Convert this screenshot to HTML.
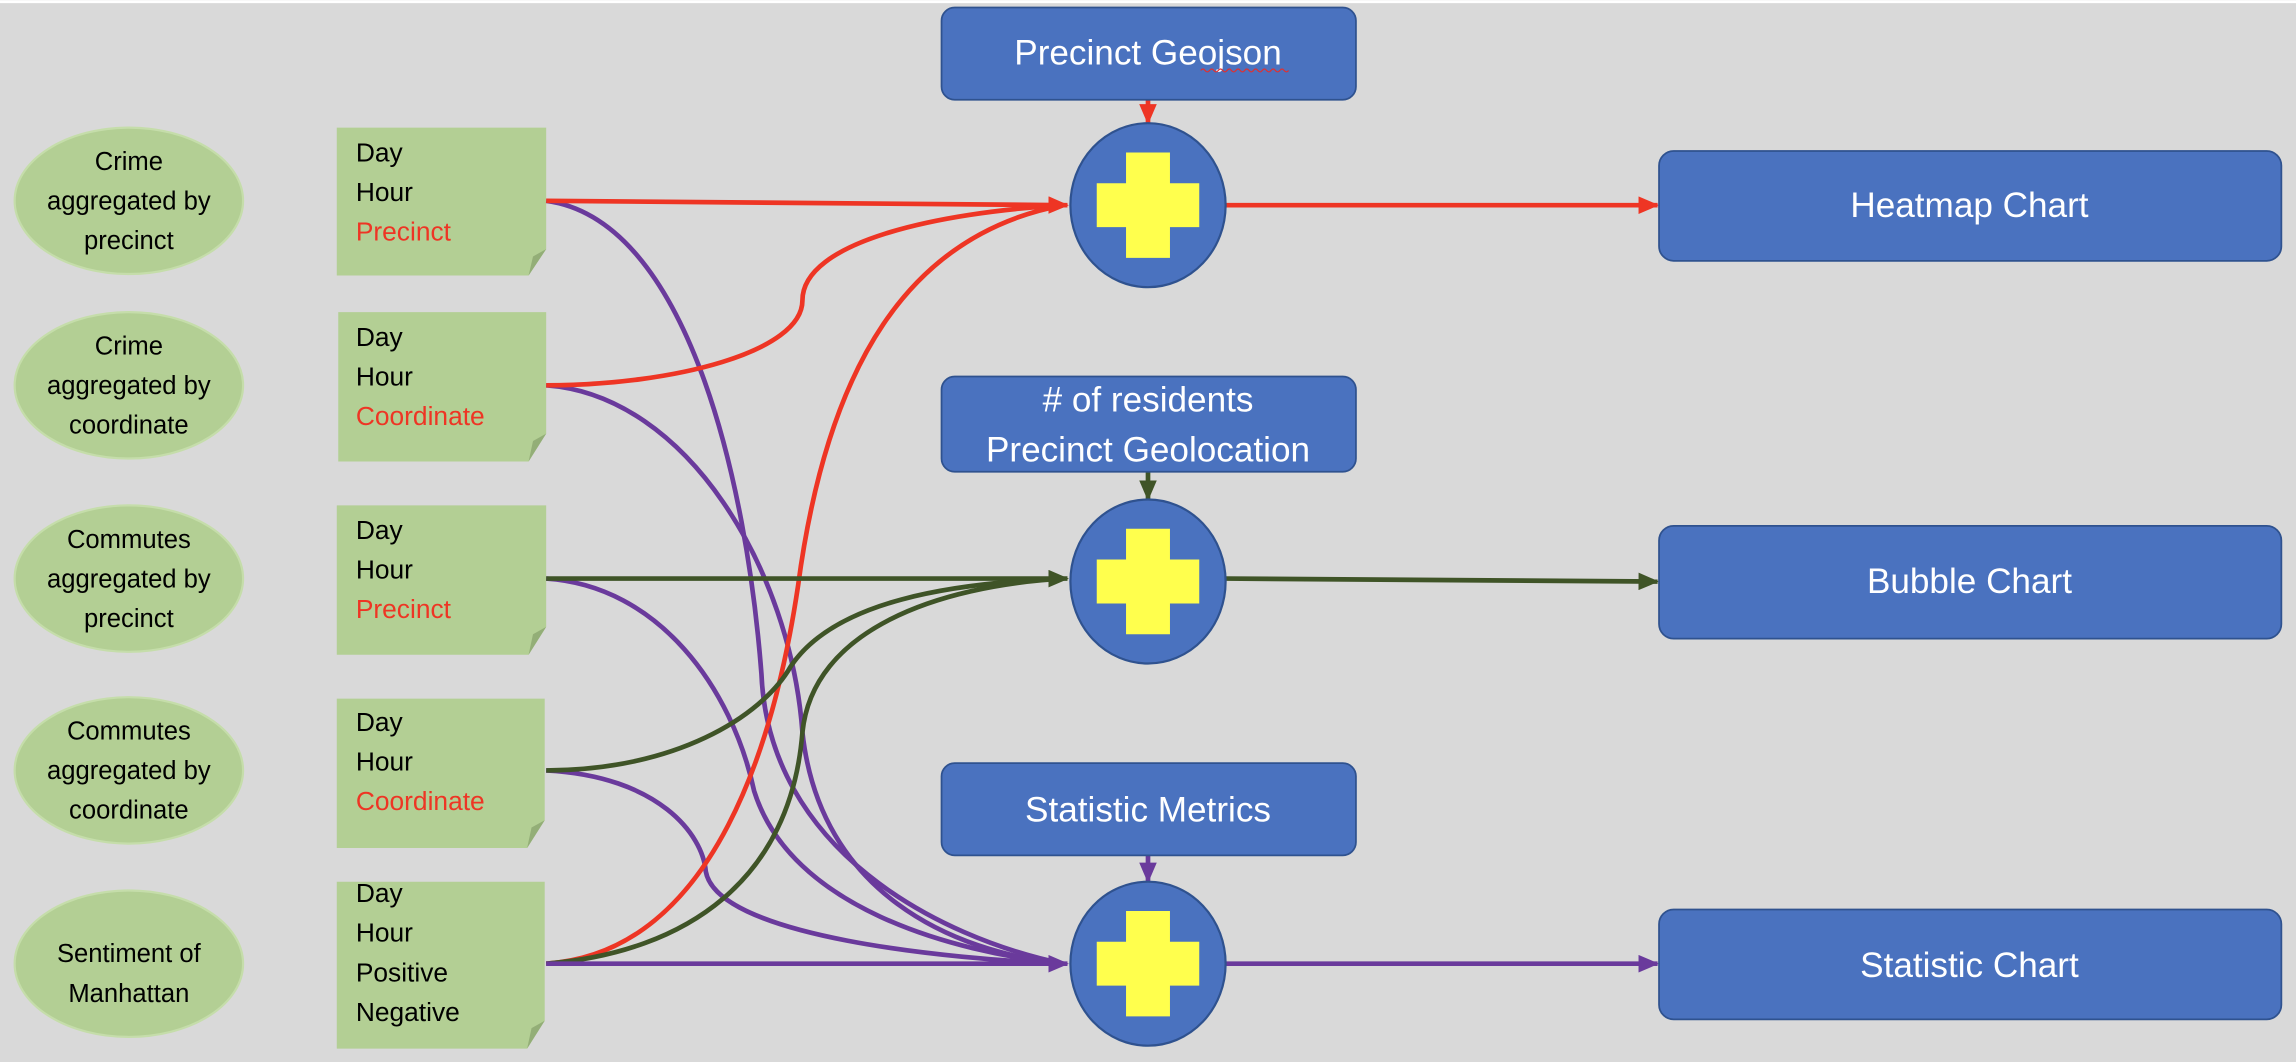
<!DOCTYPE html>
<html><head><meta charset="utf-8"><style>
html,body{margin:0;padding:0;background:#d9d9d9;}
svg{display:block}
text{font-family:"Liberation Sans Narrow","Liberation Sans",sans-serif;}
</style></head><body>
<svg width="2296" height="1062" viewBox="0 0 1568 725" xmlns="http://www.w3.org/2000/svg">
<defs>
<marker id="ar" markerWidth="14" markerHeight="12" refX="13" refY="6" orient="auto" markerUnits="userSpaceOnUse"><path d="M0,0 L14,6 L0,12z" fill="#EE3524"/></marker>
<marker id="ag" markerWidth="14" markerHeight="12" refX="13" refY="6" orient="auto" markerUnits="userSpaceOnUse"><path d="M0,0 L14,6 L0,12z" fill="#3F5427"/></marker>
<marker id="ap" markerWidth="14" markerHeight="12" refX="13" refY="6" orient="auto" markerUnits="userSpaceOnUse"><path d="M0,0 L14,6 L0,12z" fill="#6A3A9C"/></marker>
<g id="plus"><ellipse rx="53" ry="56" fill="#4A72BF" stroke="#2F528F" stroke-width="1.5"/><path d="M-15,-36 H15 V-15 H35 V15 H15 V36 H-15 V15 H-35 V-15 H-15Z" fill="#FFFF4D"/></g>
</defs>
<rect x="0" y="0" width="1568" height="725" fill="#d9d9d9"/>
<rect x="0" y="0" width="1568" height="2" fill="#fff"/>

<g fill="#B3CF94" stroke="#C5DDAA" stroke-width="1.5">
<ellipse cx="88" cy="137" rx="78" ry="50"/>
<ellipse cx="88" cy="263" rx="78" ry="50"/>
<ellipse cx="88" cy="395" rx="78" ry="50"/>
<ellipse cx="88" cy="526" rx="78" ry="50"/>
<ellipse cx="88" cy="658" rx="78" ry="50"/>
</g>
<g font-size="17.5" text-anchor="middle" fill="#000">
<text x="88" y="116">Crime</text><text x="88" y="143">aggregated by</text><text x="88" y="170">precinct</text>
<text x="88" y="242">Crime</text><text x="88" y="269">aggregated by</text><text x="88" y="296">coordinate</text>
<text x="88" y="374">Commutes</text><text x="88" y="401">aggregated by</text><text x="88" y="428">precinct</text>
<text x="88" y="505">Commutes</text><text x="88" y="532">aggregated by</text><text x="88" y="559">coordinate</text>
<text x="88" y="657">Sentiment of</text><text x="88" y="684">Manhattan</text>
</g>

<g fill="#B3CF94">
<path d="M230,87 H373 V170 L361,188 H230Z"/>
<path d="M231,213 H373 V296 L361,315 H231Z"/>
<path d="M230,345 H373 V428 L361,447 H230Z"/>
<path d="M230,477 H372 V560 L360,579 H230Z"/>
<path d="M230,602 H372 V697 L360,716 H230Z"/>
</g>
<g fill="#93AE77">
<path d="M373,170 L361,188 L364,175Z"/><path d="M373,296 L361,315 L364,301Z"/>
<path d="M373,428 L361,447 L364,433Z"/><path d="M372,560 L360,579 L363,565Z"/>
<path d="M372,697 L360,716 L363,702Z"/>
</g>
<g font-size="18" fill="#000">
<text x="243" y="110">Day</text><text x="243" y="137">Hour</text><text x="243" y="164" fill="#EE3524">Precinct</text>
<text x="243" y="236">Day</text><text x="243" y="263">Hour</text><text x="243" y="290" fill="#EE3524">Coordinate</text>
<text x="243" y="368">Day</text><text x="243" y="395">Hour</text><text x="243" y="422" fill="#EE3524">Precinct</text>
<text x="243" y="499">Day</text><text x="243" y="526">Hour</text><text x="243" y="553" fill="#EE3524">Coordinate</text>
<text x="243" y="616">Day</text><text x="243" y="643">Hour</text><text x="243" y="670">Positive</text><text x="243" y="697">Negative</text>
</g>

<g fill="none" stroke-width="3.2">
<path d="M373,137 C470,150 510,330 520,460 C525,580 640,640 726,658" stroke="#6A3A9C"/>
<path d="M373,263 C470,270 540,390 548,500 C560,610 650,650 726,658" stroke="#6A3A9C"/>
<path d="M373,395 C450,400 500,470 515,540 C540,620 650,650 726,658" stroke="#6A3A9C"/>
<path d="M373,526 C450,530 480,570 482,595 C490,640 650,655 726,658" stroke="#6A3A9C"/>
<path d="M373,263 C460,263 548,240 548,205 C548,165 640,145 726,140" stroke="#EE3524"/>
<path d="M373,658 C490,650 530,500 545,400 C565,250 620,160 726,140" stroke="#EE3524"/>
<path d="M373,526 C460,526 520,490 540,455 C570,410 650,398 726,395" stroke="#3F5427"/>
<path d="M373,658 C470,650 540,600 548,500 C555,430 640,400 726,395" stroke="#3F5427"/>
<path d="M373,137 L729,140" stroke="#EE3524" marker-end="url(#ar)"/>
<path d="M373,395 L729,395" stroke="#3F5427" marker-end="url(#ag)"/>
<path d="M373,658 L729,658" stroke="#6A3A9C" marker-end="url(#ap)"/>
<path d="M837,140 L1132,140" stroke="#EE3524" marker-end="url(#ar)"/>
<path d="M837,395 L1132,397" stroke="#3F5427" marker-end="url(#ag)"/>
<path d="M837,658 L1132,658" stroke="#6A3A9C" marker-end="url(#ap)"/>
<path d="M784,68 L784,84" stroke="#EE3524" marker-end="url(#ar)"/>
<path d="M784,322 L784,341" stroke="#3F5427" marker-end="url(#ag)"/>
<path d="M784,584 L784,602" stroke="#6A3A9C" marker-end="url(#ap)"/>
</g>

<use href="#plus" x="784" y="140"/>
<use href="#plus" x="784" y="397"/>
<use href="#plus" x="784" y="658"/>

<g fill="#4A72BF" stroke="#2F528F" stroke-width="1.2">
<rect x="643" y="5" width="283" height="63" rx="9"/>
<rect x="643" y="257" width="283" height="65" rx="9"/>
<rect x="643" y="521" width="283" height="63" rx="9"/>
<rect x="1133" y="103" width="425" height="75" rx="10"/>
<rect x="1133" y="359" width="425" height="77" rx="10"/>
<rect x="1133" y="621" width="425" height="75" rx="10"/>
</g>
<g font-size="24" fill="#fff" text-anchor="middle">
<text x="784" y="44">Precinct Geojson</text>
<text x="784" y="281">#  of residents</text>
<text x="784" y="315">Precinct Geolocation</text>
<text x="784" y="561">Statistic Metrics</text>
<text x="1345" y="148">Heatmap Chart</text>
<text x="1345" y="405">Bubble Chart</text>
<text x="1345" y="667">Statistic Chart</text>
</g>
<path d="M820,48 q1.5,-2 3,0 t3,0 t3,0 t3,0 t3,0 t3,0 t3,0 t3,0 t3,0 t3,0 t3,0 t3,0 t3,0 t3,0 t3,0 t3,0 t3,0 t3,0 t3,0 t3,0" fill="none" stroke="#e03030" stroke-width="0.8"/>
</svg>
</body></html>
